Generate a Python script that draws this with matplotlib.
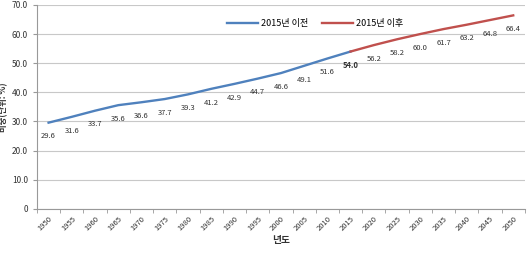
import matplotlib
matplotlib.use('Agg')
from matplotlib import pyplot as plt
import numpy as np

plt.rcParams['font.family'] = ['Noto Sans CJK KR', 'DejaVu Sans']

years = ['1950', '1955', '1960', '1965', '1970', '1975', '1980', '1985', '1990', '1995',
         '2000', '2005', '2010', '2015', '2020', '2025', '2030', '2035', '2040', '2045', '2050']
values = [29.6, 31.6, 33.7, 35.6, 36.6, 37.7, 39.3, 41.2, 42.9, 44.7,
          46.6, 49.1, 51.6, 54.0, 56.2, 58.2, 60.0, 61.7, 63.2, 64.8, 66.4]
split = 13  # index of 2015
before_label = '2015년 이전'
after_label = '2015년 이후'
y_ticks = [0, 10, 20, 30, 40, 50, 60, 70]
y_ticklabels = ['0', '10.0', '20.0', '30.0', '40.0', '50.0', '60.0', '70.0']

fig = plt.figure(figsize=(5.28, 2.57), dpi=100)
ax = fig.add_axes([0.070, 0.187, 0.924, 0.794])

x = np.arange(len(years))
ax.plot(x[:split + 1], values[:split + 1], color='#4f81bd', lw=1.7, label=before_label)
ax.plot(x[split:], values[split:], color='#c0504d', lw=1.7, label=after_label)

for i, v in enumerate(values):
    ax.annotate('%.1f' % v, (x[i], v), xytext=(0, -7), textcoords='offset points',
                ha='center', va='top', fontsize=5.5, color='#333333',
                fontweight='bold' if i == split else 'normal')

ax.set_xlim(-0.5, len(years) - 0.5)
ax.set_ylim(0, 70)
ax.set_yticks(y_ticks)
ax.set_yticklabels(y_ticklabels)
ax.set_xticks(x)
ax.set_xticklabels(years, rotation=45, ha='right', rotation_mode='anchor')
ax.set_xticks(np.arange(-0.5, len(years)), minor=True)
ax.tick_params(axis='x', which='major', length=0, labelsize=5.5, colors='#333333', pad=4)
ax.tick_params(axis='x', which='minor', length=3, color='#999999')
ax.tick_params(axis='y', labelsize=6, colors='#333333', length=3, color='#999999')
ax.grid(axis='y', color='#c8c8c8', lw=0.8)
ax.set_axisbelow(True)
for s in ['top', 'right']:
    ax.spines[s].set_visible(False)
for s in ['left', 'bottom']:
    ax.spines[s].set_color('#999999')

ax.set_xlabel('년도', fontsize=7, fontweight='bold', color='#333333', labelpad=2)
ax.set_ylabel('비중(단위: %)', fontsize=6, fontweight='bold', color='#333333')
ax.yaxis.set_label_coords(-0.058, 0.5)

ax.legend(loc='upper center', bbox_to_anchor=(0.57, 0.97), ncol=2, frameon=False,
          fontsize=6.5, handlelength=3.5, columnspacing=1.5, handletextpad=0.3)

fig.savefig('out.png', dpi=100, facecolor='white')
